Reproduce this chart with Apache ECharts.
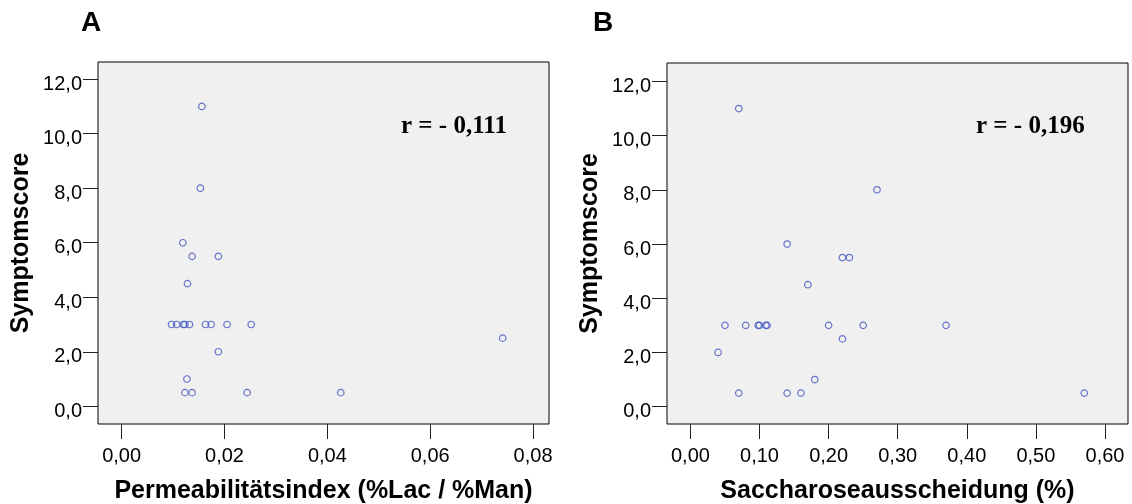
<!DOCTYPE html>
<html>
<head>
<meta charset="utf-8">
<script src="https://cdn.jsdelivr.net/npm/echarts@6/dist/echarts.min.js"></script>
<style>html,body{margin:0;padding:0;background:#fff}#c{width:1132px;height:504px}</style>
</head>
<body>
<div id="c"></div>
<script>
// Panel A: Permeabilitätsindex vs Symptomscore
const permIndex = [0.0156, 0.0153, 0.0119, 0.0137, 0.0188, 0.0128, 0.0097, 0.0107, 0.0120, 0.0123, 0.0132, 0.0163, 0.0174, 0.0205, 0.0252, 0.0741, 0.0188, 0.0127, 0.0123, 0.0137, 0.0244, 0.0426];
const scoreA    = [11, 8, 6, 5.5, 5.5, 4.5, 3, 3, 3, 3, 3, 3, 3, 3, 3, 2.5, 2, 1, 0.5, 0.5, 0.5, 0.5];
// Panel B: Saccharoseausscheidung vs Symptomscore
const sucrose   = [0.07, 0.27, 0.14, 0.22, 0.23, 0.17, 0.05, 0.08, 0.098, 0.10, 0.109, 0.111, 0.20, 0.25, 0.37, 0.22, 0.04, 0.18, 0.07, 0.14, 0.16, 0.57];
const scoreB    = [11, 8, 6, 5.5, 5.5, 4.5, 3, 3, 3, 3, 3, 3, 3, 3, 3, 2.5, 2, 1, 0.5, 0.5, 0.5, 0.5];
// Tick labels
const xTicksA = [0, 0.02, 0.04, 0.06, 0.08];
const xTicksB = [0, 0.1, 0.2, 0.3, 0.4, 0.5, 0.6];
const yTicks  = [0, 2, 4, 6, 8, 10, 12];
const panelLabels = ['A', 'B'];
const rLabels = ['r = - 0,111', 'r = - 0,196'];
const yName = 'Symptomscore';
const xNameA = 'Permeabilitätsindex (%Lac / %Man)';
const xNameB = 'Saccharoseausscheidung (%)';

const SANS = '"Liberation Sans", Arial, sans-serif';
const SERIF = '"Liberation Serif", "Times New Roman", serif';
const comma = (v, d) => v.toFixed(d).replace('.', ',');

function xAxis(gi, min, max, ticks, name) {
  return {
    type: 'value', gridIndex: gi, min: min, max: max,
    name: name, nameLocation: 'middle', nameGap: 55,
    nameTextStyle: { fontFamily: SANS, fontWeight: 'bold', fontSize: 25, color: '#000' },
    axisLine: { show: false, onZero: false },
    axisTick: { show: true, length: 15, customValues: ticks, lineStyle: { color: '#222', width: 1 } },
    axisLabel: { customValues: ticks, margin: 22, fontFamily: SANS, fontSize: 20, color: '#000',
                 formatter: v => comma(v, 2) },
    splitLine: { show: false }
  };
}
function yAxis(gi, min, max) {
  return {
    type: 'value', gridIndex: gi, min: min, max: max,
    name: yName, nameLocation: 'middle', nameGap: 64,
    nameTextStyle: { fontFamily: SANS, fontWeight: 'bold', fontSize: 25, color: '#000' },
    axisLine: { show: false, onZero: false },
    axisTick: { show: true, length: 15, customValues: yTicks, lineStyle: { color: '#222', width: 1 } },
    axisLabel: { customValues: yTicks, margin: 16, fontFamily: SANS, fontSize: 20, color: '#000',
                 verticalAlign: 'top', lineHeight: 10, formatter: v => comma(v, 1) },
    splitLine: { show: false }
  };
}
function pts(xs, ys) { return xs.map((x, i) => [x, ys[i]]); }
const marker = {
  symbol: 'circle', symbolSize: 6.5,
  itemStyle: { color: 'rgba(0,0,0,0)', borderColor: '#3F51C0', borderWidth: 1.2 }
};

const chart = echarts.init(document.getElementById('c'), null, { renderer: 'canvas' });
chart.setOption({
  animation: false,
  backgroundColor: '#fff',
  grid: [
    { left: 98, top: 62, width: 451, height: 362, outerBoundsMode: 'none', containLabel: false, show: true, backgroundColor: '#F0F0F0', borderColor: '#000', borderWidth: 1 },
    { left: 667, top: 63, width: 461, height: 361, outerBoundsMode: 'none', containLabel: false, show: true, backgroundColor: '#F0F0F0', borderColor: '#000', borderWidth: 1 }
  ],
  xAxis: [
    xAxis(0, -0.0046, 0.0831, xTicksA, xNameA),
    xAxis(1, -0.0339, 0.6333, xTicksB, xNameB)
  ],
  yAxis: [
    yAxis(0, -0.65, 12.63),
    yAxis(1, -0.64, 12.68)
  ],
  series: [
    Object.assign({ type: 'scatter', xAxisIndex: 0, yAxisIndex: 0, data: pts(permIndex, scoreA) }, marker),
    Object.assign({ type: 'scatter', xAxisIndex: 1, yAxisIndex: 1, data: pts(sucrose, scoreB) }, marker)
  ],
  graphic: [
    { type: 'text', left: 81, top: 9, style: { text: panelLabels[0], font: 'bold 28px ' + SANS, fill: '#000' } },
    { type: 'text', left: 593, top: 9, style: { text: panelLabels[1], font: 'bold 28px ' + SANS, fill: '#000' } },
    { type: 'text', left: 401, top: 114, style: { text: rLabels[0], font: 'bold 25px ' + SERIF, fill: '#000' } },
    { type: 'text', left: 976, top: 114, style: { text: rLabels[1], font: 'bold 25px ' + SERIF, fill: '#000' } }
  ]
});
</script>
</body>
</html>
